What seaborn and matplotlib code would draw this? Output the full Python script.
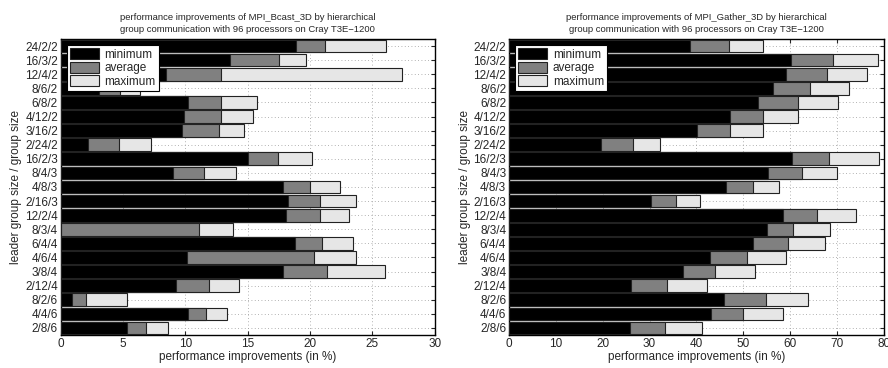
import matplotlib
matplotlib.use("Agg")
import matplotlib.pyplot as plt
from matplotlib.patches import Patch
import seaborn as sns
import pandas as pd

categories = ["24/2/2", "16/3/2", "12/4/2", "8/6/2", "6/8/2", "4/12/2", "3/16/2",
              "2/24/2", "16/2/3", "8/4/3", "4/8/3", "2/16/3", "12/2/4", "8/3/4",
              "6/4/4", "4/6/4", "3/8/4", "2/12/4", "8/2/6", "4/4/6", "2/8/6"]

bcast_min = [18.85, 13.6, 8.42, 3.07, 10.24, 9.92, 9.71, 2.22, 15.03, 9.04, 17.83,
             18.24, 18.1, 0.0, 18.77, 10.13, 17.83, 9.28, 0.88, 10.24, 5.29]
bcast_avg = [21.18, 17.5, 12.86, 4.79, 12.83, 12.89, 12.7, 4.68, 17.46, 11.52, 20.03,
             20.83, 20.8, 11.1, 20.94, 20.35, 21.36, 11.87, 2.06, 11.63, 6.82]
bcast_max = [26.12, 19.65, 27.4, 6.34, 15.75, 15.43, 14.7, 7.22, 20.13, 14.09, 22.38,
             23.72, 23.13, 13.82, 23.45, 23.66, 26.02, 14.28, 5.35, 13.32, 8.61]

gather_min = [38.7, 60.1, 59.2, 56.4, 53.2, 47.1, 40.1, 19.7, 60.4, 55.2, 46.3,
              30.4, 58.4, 55.1, 52.0, 43.0, 37.2, 26.1, 45.8, 43.1, 25.9]
gather_avg = [46.9, 69.1, 67.8, 64.3, 61.6, 54.2, 47.1, 26.5, 68.3, 62.6, 52.0,
              35.7, 65.8, 60.6, 59.6, 50.8, 43.9, 33.7, 54.8, 50.0, 33.3]
gather_max = [54.2, 78.8, 76.4, 72.5, 70.3, 61.8, 54.2, 32.2, 78.9, 70.0, 57.7,
              40.7, 74.0, 68.5, 67.4, 59.2, 52.6, 42.3, 63.8, 58.5, 41.2]

titles = ["performance improvements of MPI_Bcast_3D by hierarchical\ngroup communication with 96 processors on Cray T3E\u22121200",
          "performance improvements of MPI_Gather_3D by hierarchical\ngroup communication with 96 processors on Cray T3E\u22121200"]
xlims = [30, 80]
xticks = [[0, 5, 10, 15, 20, 25, 30], [0, 10, 20, 30, 40, 50, 60, 70, 80]]
series_labels = ["minimum", "average", "maximum"]
colors = {"minimum": "#000000", "average": "#808080", "maximum": "#e6e6e6"}

sns.set_theme(style="white")
plt.rcParams["font.family"] = ["Liberation Sans", "DejaVu Sans"]

fig = plt.figure(figsize=(8.88, 3.68), dpi=100)
ax1 = fig.add_axes([0.0684, 0.0897, 0.4212, 0.8043])
ax2 = fig.add_axes([0.5732, 0.0897, 0.4220, 0.8043])

datasets = [(bcast_min, bcast_avg, bcast_max), (gather_min, gather_avg, gather_max)]

for ax, (mn, av, mx), title, xl, xt in zip([ax1, ax2], datasets, titles, xlims, xticks):
    df = pd.DataFrame({"group": categories, "minimum": mn, "average": av, "maximum": mx})
    for s in ["maximum", "average", "minimum"]:
        sns.barplot(data=df, x=s, y="group", order=categories, color=colors[s],
                    saturation=1, width=0.9, edgecolor="#222222", linewidth=0.8,
                    orient="h", ax=ax, zorder=3)
    ax.set_xlim(0, xl)
    ax.set_ylim(len(categories) - 0.5, -0.5)
    ax.set_xticks(xt)
    ax.set_xticklabels([str(v) for v in xt])
    ax.grid(True, axis="both", linestyle=(0, (1, 3)), color="#999999", linewidth=0.6, zorder=0)
    ax.set_axisbelow(True)
    ax.tick_params(axis="both", direction="in", length=3, width=0.8, labelsize=8.5,
                   left=True, right=True, top=True, bottom=True, pad=2)
    for sp in ax.spines.values():
        sp.set_visible(True)
        sp.set_color("black")
        sp.set_linewidth(1.0)
    ax.set_xlabel("performance improvements (in %)", fontsize=8.5, labelpad=1)
    ax.set_ylabel("leader group size / group size", fontsize=8.5, labelpad=2)
    ax.set_title(title, fontsize=6.8, pad=5, linespacing=1.4)
    handles = [Patch(facecolor=colors[s], edgecolor="#222222", linewidth=0.8) for s in series_labels]
    leg = ax.legend(handles, series_labels, loc="upper left", fontsize=8.5, frameon=True,
                    fancybox=False, framealpha=1, edgecolor="black", borderpad=0.3,
                    labelspacing=0.1, handlelength=2.4, handleheight=1.0, handletextpad=0.5,
                    borderaxespad=0.5)
    leg.get_frame().set_linewidth(0.8)
    leg.set_zorder(10)

fig.savefig("out.png", dpi=100)
